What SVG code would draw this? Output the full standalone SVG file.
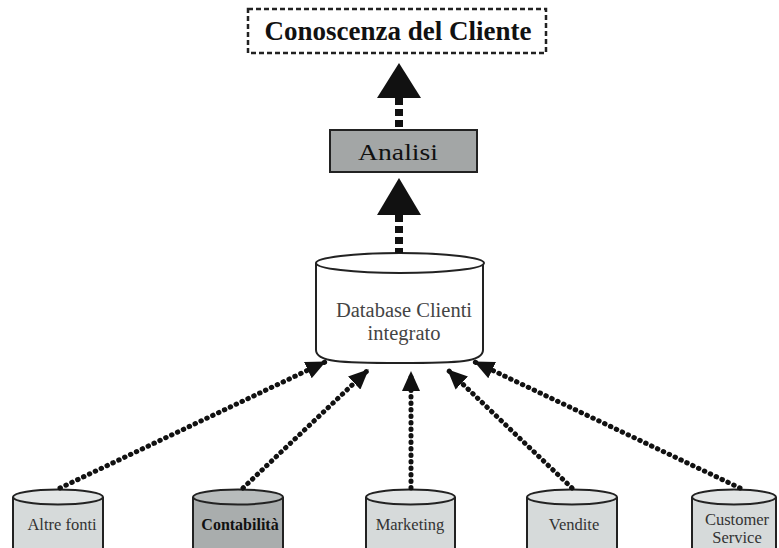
<svg xmlns="http://www.w3.org/2000/svg" width="779" height="548" viewBox="0 0 779 548">
  <style>
    .serif { font-family: "Liberation Serif", "Times New Roman", serif; text-anchor: middle; }
    .title { font-size: 27px; font-weight: bold; fill: #111; }
    .analisi { font-size: 23px; fill: #111; }
    .db { font-size: 20.5px; fill: #444; }
    .src { font-size: 16.5px; fill: #333; }
    .src-b { font-size: 16px; font-weight: bold; fill: #111; }
    .outline { stroke: #222; stroke-width: 2; }
    .cyl-body { fill: #d6dada; }
    .cyl-top { fill: #e2e5e5; }
    .cyl-body-dark { fill: #a9adad; }
    .cyl-top-dark { fill: #b8bcbc; }
    .dots { fill: none; stroke: #111; stroke-width: 5; stroke-linecap: round; stroke-dasharray: 0.5 6; }
    .thick { fill: none; stroke: #111; stroke-width: 8; stroke-dasharray: 7 4; }
  </style>
  <defs>
    <marker id="head" viewBox="0 0 20 18" refX="19" refY="9" markerWidth="20" markerHeight="18" markerUnits="userSpaceOnUse" orient="auto">
      <path d="M0,0 L20,9 L0,18 Z" fill="#111"/>
    </marker>
  </defs>

  <!-- top result box -->
  <g id="conoscenza">
    <rect x="248" y="9" width="298" height="44" fill="#fff" stroke="#222" stroke-width="2.5" stroke-dasharray="5 3"/>
    <text class="serif title" x="398" y="40">Conoscenza del Cliente</text>
  </g>

  <!-- analysis step -->
  <g id="analisi">
    <rect x="330" y="130" width="147" height="42" fill="#a3a6a6" class="outline"/>
    <text class="serif analisi" x="398" y="160" textLength="80" lengthAdjust="spacingAndGlyphs">Analisi</text>
  </g>

  <!-- integrated customer database -->
  <g id="database">
    <path d="M316,263 V350 C316,362 340,363 400,363 C460,363 483,362 483,350 V263" fill="#fff" class="outline"/>
    <ellipse cx="400" cy="263" rx="84" ry="10" fill="#fff" class="outline"/>
    <text class="serif db" x="404" y="317">Database Clienti</text>
    <text class="serif db" x="404" y="340">integrato</text>
  </g>

  <!-- source databases -->
  <g id="altre-fonti">
    <rect x="13" y="497" width="90" height="60" class="cyl-body"/>
    <path d="M13,497 V560 M103,497 V560" class="outline"/>
    <ellipse cx="58" cy="497" rx="45" ry="7.5" class="cyl-top outline"/>
    <text class="serif src" x="62" y="530">Altre fonti</text>
  </g>
  <g id="contabilita">
    <rect x="193" y="497" width="90" height="60" class="cyl-body-dark"/>
    <path d="M193,497 V560 M283,497 V560" class="outline"/>
    <ellipse cx="238" cy="497" rx="45" ry="7.5" class="cyl-top-dark outline"/>
    <text class="serif src-b" x="240" y="530">Contabilità</text>
  </g>
  <g id="marketing">
    <rect x="366" y="497" width="89" height="60" class="cyl-body"/>
    <path d="M366,497 V560 M455,497 V560" class="outline"/>
    <ellipse cx="410.5" cy="497" rx="44.5" ry="7.5" class="cyl-top outline"/>
    <text class="serif src" x="410" y="530">Marketing</text>
  </g>
  <g id="vendite">
    <rect x="527" y="497" width="90" height="60" class="cyl-body"/>
    <path d="M527,497 V560 M617,497 V560" class="outline"/>
    <ellipse cx="572" cy="497" rx="45" ry="7.5" class="cyl-top outline"/>
    <text class="serif src" x="574" y="530">Vendite</text>
  </g>
  <g id="customer-service">
    <rect x="692" y="497" width="84" height="60" class="cyl-body"/>
    <path d="M692,497 V560 M776,497 V560" class="outline"/>
    <ellipse cx="734" cy="497" rx="42" ry="7.5" class="cyl-top outline"/>
    <text class="serif src" x="737" y="525">Customer</text>
    <text class="serif src" x="737" y="543">Service</text>
  </g>

  <!-- connectors -->
  <g id="connectors">
    <path class="thick" d="M399,98 V130"/>
    <polygon points="399,63 377,98 421,98" fill="#111"/>
    <path class="thick" d="M399,215 V253"/>
    <polygon points="399,178 377,215 421,215" fill="#111"/>

    <path class="dots" d="M60,488 L325,362" marker-end="url(#head)"/>
    <path class="dots" d="M243,488 L368,370" marker-end="url(#head)"/>
    <path class="dots" d="M411,488 L411,372" marker-end="url(#head)"/>
    <path class="dots" d="M572,488 L448,370" marker-end="url(#head)"/>
    <path class="dots" d="M740,488 L475,362" marker-end="url(#head)"/>
  </g>
</svg>
